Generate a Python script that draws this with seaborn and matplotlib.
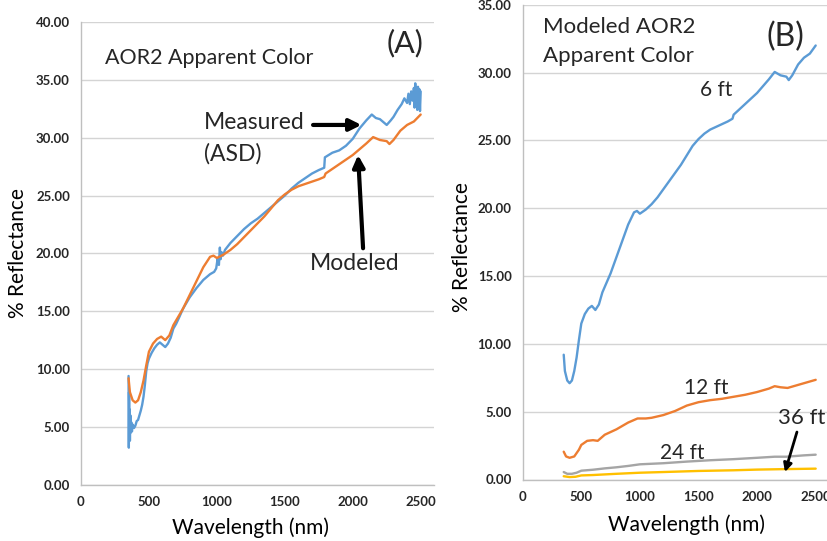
import matplotlib
matplotlib.use("Agg")
import matplotlib.pyplot as plt
import seaborn as sns
import pandas as pd
import numpy as np

# ---------------- data ----------------
# Modeled AOR2 apparent colour (also the 6 ft curve in panel B)
model_wl = [350, 360, 380, 400, 420, 440, 460, 480, 500, 530, 560, 590, 620, 650, 680,
            700, 750, 800, 850, 900, 950, 975, 1000, 1050, 1100, 1150, 1200, 1250, 1300,
            1350, 1400, 1450, 1500, 1550, 1600, 1650, 1700, 1750, 1790, 1800, 1850, 1900,
            1950, 2000, 2050, 2100, 2150, 2200, 2250, 2270, 2300, 2350, 2400, 2450, 2500]
model_val = [9.2, 8.0, 7.3, 7.1, 7.3, 8.0, 9.0, 10.3, 11.5, 12.2, 12.6, 12.8, 12.5, 12.9, 13.8,
             14.2, 15.2, 16.4, 17.6, 18.8, 19.7, 19.8, 19.6, 19.9, 20.3, 20.8, 21.4, 22.0, 22.6,
             23.2, 23.9, 24.6, 25.1, 25.5, 25.8, 26.0, 26.2, 26.4, 26.6, 26.9, 27.3, 27.7,
             28.1, 28.5, 29.0, 29.5, 30.05, 29.8, 29.7, 29.45, 29.8, 30.6, 31.1, 31.4, 32.0]

# Measured (ASD)
meas_wl = [350, 352, 354, 356, 358, 360, 363, 366, 370, 375, 380, 390, 400, 410, 420, 430,
           440, 450, 460, 470, 480, 490, 500, 520, 540, 560, 580, 600, 620, 640, 660, 680,
           700, 720, 750, 800, 850, 900, 950, 980, 995, 1005, 1015, 1022, 1028, 1035, 1045,
           1060, 1100, 1150, 1200, 1250, 1300, 1350, 1400, 1450, 1500, 1550, 1600, 1650,
           1700, 1750, 1790, 1795, 1850, 1900, 1950, 2000, 2050, 2100, 2140, 2170, 2200,
           2230, 2250, 2280, 2300, 2330, 2360, 2380, 2400, 2410, 2420, 2430, 2440, 2450,
           2455, 2460, 2465, 2470, 2475, 2480, 2485, 2490, 2495, 2500]
meas_val = [9.4, 3.2, 8.0, 4.0, 6.5, 3.8, 6.0, 4.5, 5.4, 4.6, 5.2, 4.9, 5.1, 5.5, 5.6, 6.0,
            6.4, 6.9, 7.6, 8.6, 9.8, 10.5, 10.9, 11.4, 11.8, 12.1, 12.3, 12.1, 11.9, 12.2, 12.7, 13.5,
            13.9, 14.4, 15.2, 16.2, 17.0, 17.7, 18.2, 18.4, 18.7, 19.5, 19.0, 20.5, 19.5, 20.1, 19.8,
            20.3, 20.9, 21.5, 22.1, 22.6, 23.0, 23.5, 24.0, 24.5, 25.0, 25.6, 26.1, 26.5,
            26.9, 27.2, 27.4, 28.3, 28.7, 28.9, 29.3, 29.9, 30.8, 31.5, 32.0, 31.7, 31.6,
            31.3, 31.1, 31.5, 31.8, 32.4, 32.9, 33.4, 33.0, 33.8, 32.9, 34.0, 33.2, 34.3,
            32.6, 34.7, 33.0, 34.0, 32.4, 34.4, 32.5, 34.2, 32.3, 34.0]

# Panel B: 12, 24, 36 ft
ft12_wl = [350, 370, 400, 440, 480, 500, 550, 600, 640, 700, 800, 900, 980, 1050, 1100, 1200,
           1300, 1400, 1500, 1600, 1700, 1800, 1900, 2000, 2100, 2150, 2200, 2260, 2300, 2400, 2500]
ft12_val = [2.05, 1.7, 1.6, 1.7, 2.2, 2.55, 2.85, 2.9, 2.85, 3.3, 3.7, 4.2, 4.5, 4.5, 4.55, 4.75,
            5.05, 5.45, 5.7, 5.85, 5.95, 6.1, 6.25, 6.45, 6.7, 6.88, 6.8, 6.75, 6.85, 7.1, 7.35]

ft24_wl = [350, 380, 420, 460, 500, 600, 700, 800, 900, 1000, 1200, 1400, 1600, 1800, 2000,
           2150, 2250, 2400, 2500]
ft24_val = [0.55, 0.42, 0.42, 0.5, 0.65, 0.72, 0.82, 0.9, 1.0, 1.12, 1.2, 1.32, 1.42, 1.5, 1.6,
            1.68, 1.68, 1.78, 1.83]

ft36_wl = [350, 400, 450, 500, 600, 800, 1000, 1200, 1500, 1800, 2000, 2200, 2500]
ft36_val = [0.24, 0.18, 0.2, 0.3, 0.33, 0.42, 0.5, 0.55, 0.63, 0.68, 0.73, 0.76, 0.8]

x_ticks = [0, 500, 1000, 1500, 2000, 2500]
yA_ticks = [0, 5, 10, 15, 20, 25, 30, 35, 40]
yB_ticks = [0, 5, 10, 15, 20, 25, 30, 35]

BLUE, ORANGE, GRAY, GOLD = "#5B9BD5", "#ED7D31", "#A5A5A5", "#FFC000"

# ---------------- style ----------------
sns.set_style("white")
plt.rcParams["font.family"] = ["Lato", "DejaVu Sans"]

fig = plt.figure(figsize=(8.28, 5.41), dpi=100)
W, H = 828, 541
axA = fig.add_axes([81 / W, (H - 484.7) / H, (434 - 81) / W, (484.7 - 22) / H])
axB = fig.add_axes([522.7 / W, (H - 479.5) / H, (828 - 522.7) / W, (479.5 - 4.8) / H])

dfA = pd.concat([
    pd.DataFrame({"wl": meas_wl, "val": meas_val, "series": "Measured"}),
    pd.DataFrame({"wl": model_wl, "val": model_val, "series": "Modeled"}),
])
sns.lineplot(data=dfA, x="wl", y="val", hue="series", palette={"Measured": BLUE, "Modeled": ORANGE},
             estimator=None, linewidth=1.7, ax=axA, legend=False)

dfB = pd.concat([
    pd.DataFrame({"wl": model_wl, "val": model_val, "series": "6 ft"}),
    pd.DataFrame({"wl": ft12_wl, "val": ft12_val, "series": "12 ft"}),
    pd.DataFrame({"wl": ft24_wl, "val": ft24_val, "series": "24 ft"}),
    pd.DataFrame({"wl": ft36_wl, "val": ft36_val, "series": "36 ft"}),
])
sns.lineplot(data=dfB, x="wl", y="val", hue="series",
             palette={"6 ft": BLUE, "12 ft": ORANGE, "24 ft": GRAY, "36 ft": GOLD},
             estimator=None, linewidth=1.7, ax=axB, legend=False)

def style(ax, yticks, ylim, xmax):
    ax.set_xlim(0, xmax)
    ax.set_ylim(*ylim)
    ax.set_xticks(x_ticks)
    ax.set_xticklabels([str(t) for t in x_ticks])
    ax.set_yticks(yticks)
    ax.set_yticklabels([f"{t:.2f}" for t in yticks])
    ax.grid(axis="y", color="#D4D4D4", linewidth=1.0)
    ax.grid(axis="x", visible=False)
    ax.set_axisbelow(True)
    for s in ["top", "right"]:
        ax.spines[s].set_visible(False)
    for s in ["left", "bottom"]:
        ax.spines[s].set_color("#BFBFBF")
        ax.spines[s].set_linewidth(1.0)
    ax.tick_params(axis="both", which="major", direction="out", length=4, width=1.0,
                   color="#BFBFBF", labelsize=9.5, pad=4)
    for lab in ax.get_xticklabels() + ax.get_yticklabels():
        lab.set_fontweight("bold")
        lab.set_color("#262626")
    ax.set_xlabel("Wavelength (nm)", fontsize=15, color="black")
    ax.set_ylabel("% Reflectance", fontsize=15, color="black")
    ax.xaxis.label.set_va("center")
    ax.yaxis.label.set_va("center")

style(axA, yA_ticks, (0, 40), 2598)
style(axB, yB_ticks, (0, 35), 2605)

axA.xaxis.set_label_coords(0.479, -0.094)
axA.yaxis.set_label_coords(-0.178, 0.50)
axB.xaxis.set_label_coords(0.538, -0.096)
axB.yaxis.set_label_coords(-0.199, 0.49)

# ---------------- annotations panel A ----------------
axA.text(176, 36.9, "AOR2 Apparent Color", fontsize=15.5, va="center", ha="left")
axA.text(2250, 38.2, "(A)", fontsize=22, va="center", ha="left")
axA.text(904, 31.27, "Measured", fontsize=16.5, va="center", ha="left")
axA.text(904, 28.6, "(ASD)", fontsize=16.5, va="center", ha="left")
axA.text(1684, 19.14, "Modeled", fontsize=16.5, va="center", ha="left")
arrow = dict(arrowstyle="-|>,head_length=0.7,head_width=0.35", lw=3, color="black",
             shrinkA=0, shrinkB=0)
axA.annotate("", xy=(2064, 31.1), xytext=(1708, 31.1), arrowprops=arrow)
axA.annotate("", xy=(2039, 28.5), xytext=(2076, 20.44), arrowprops=arrow)

# ---------------- annotations panel B ----------------
axB.text(173, 33.36, "Modeled AOR2", fontsize=16, va="center", ha="left")
axB.text(173, 31.22, "Apparent Color", fontsize=16, va="center", ha="left")
axB.text(2076, 32.63, "(B)", fontsize=23, va="center", ha="left")
axB.text(1513, 28.7, "6 ft", fontsize=15, va="center", ha="left")
axB.text(1376, 6.75, "12 ft", fontsize=15, va="center", ha="left")
axB.text(1171, 1.95, "24 ft", fontsize=15, va="center", ha="left")
axB.text(2178, 4.53, "36 ft", fontsize=16, va="center", ha="left")
arrowB = dict(arrowstyle="-|>,head_length=0.5,head_width=0.25", lw=2, color="black",
              shrinkA=0, shrinkB=0)
axB.annotate("", xy=(2238, 0.55), xytext=(2340, 3.5), arrowprops=arrowB)

fig.savefig("out.png", dpi=100)
